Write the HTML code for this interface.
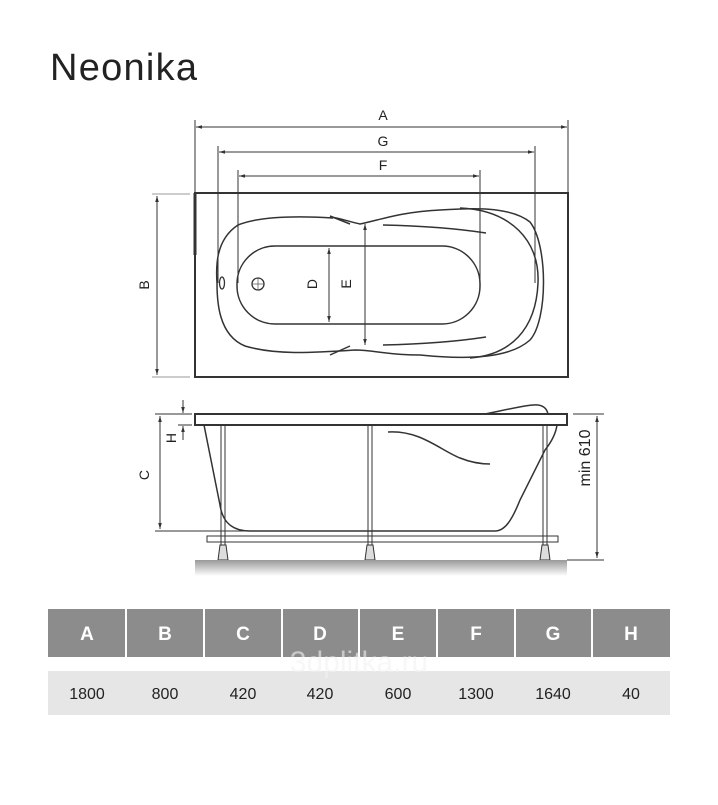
<!DOCTYPE html>
<html><head><meta charset="utf-8"><style>
body{margin:0;background:#fff;width:718px;height:800px;overflow:hidden;font-family:"Liberation Sans",sans-serif;}
</style></head><body>
<svg width="718" height="800" viewBox="0 0 718 800" xmlns="http://www.w3.org/2000/svg">
<defs>
<marker id="ar" viewBox="0 0 10 10" refX="10" refY="5" markerWidth="6" markerHeight="6" orient="auto-start-reverse"><path d="M0,2 L10,5 L0,8z" fill="#333"/></marker>
<linearGradient id="fl" x1="0" y1="0" x2="0" y2="1"><stop offset="0" stop-color="#999"/><stop offset="1" stop-color="#fff"/></linearGradient>
</defs>
<text x="50" y="80" font-size="38" fill="#222" font-family="Liberation Sans" textLength="147">Neonika</text>
<g stroke="#333" stroke-width="1" fill="none">
<line x1="195" y1="120" x2="195" y2="193"/><line x1="568" y1="120" x2="568" y2="193"/>
<line x1="196" y1="127" x2="567" y2="127" marker-start="url(#ar)" marker-end="url(#ar)"/>
<line x1="218" y1="146" x2="218" y2="283"/><line x1="535" y1="146" x2="535" y2="283"/>
<line x1="219" y1="152" x2="534" y2="152" marker-start="url(#ar)" marker-end="url(#ar)"/>
<line x1="238" y1="170" x2="238" y2="283"/><line x1="480" y1="170" x2="480" y2="283"/>
<line x1="239" y1="176" x2="479" y2="176" marker-start="url(#ar)" marker-end="url(#ar)"/>
<line x1="152" y1="194" x2="190" y2="194" stroke="#999"/><line x1="152" y1="377" x2="190" y2="377" stroke="#999"/>
<line x1="157" y1="196" x2="157" y2="375" marker-start="url(#ar)" marker-end="url(#ar)"/>
<rect x="195" y="193" width="373" height="184" stroke-width="2"/>
<line x1="195" y1="193" x2="195" y2="255" stroke-width="3"/>
<path d="M333,218 C300,216 260,216 238,225 C215,240 216,268 217,283 C217,300 218,335 245,346 C275,355 310,353 355,350 C375,350 385,355 420,355 C470,360 510,358 530,340 C548,320 548,245 530,222 C510,206 470,208 440,210 C400,212 380,220 360,224 C350,222 340,218 330,217" stroke-width="1.5"/>
<path d="M460,208 C510,210 540,240 538,283 C536,330 510,355 470,358" stroke-width="1.5"/>
<path d="M330,216 L350,224" stroke-width="1.5"/><path d="M330,355 L350,346" stroke-width="1.5"/>
<path d="M383,225 C430,226 460,229 486,233" stroke-width="1.5"/>
<path d="M383,345 C430,344 460,341 486,337" stroke-width="1.5"/>
<rect x="237" y="246" width="243" height="78" rx="38" stroke-width="1.5"/>
<ellipse cx="222" cy="283" rx="2.5" ry="6" stroke-width="1.3"/>
<circle cx="258" cy="284" r="6" stroke-width="1.3"/>
<line x1="252" y1="284" x2="264" y2="284" stroke-width="0.6"/><line x1="258" y1="278" x2="258" y2="290" stroke-width="0.6"/>
<line x1="329" y1="248" x2="329" y2="322" marker-start="url(#ar)" marker-end="url(#ar)"/>
<line x1="365" y1="224" x2="365" y2="345" marker-start="url(#ar)" marker-end="url(#ar)"/>
<rect x="195" y="414" width="372" height="11" stroke-width="2"/>
<path d="M485,414 C505,410 530,404 538,405 C545,406 547,410 548,414" stroke-width="1.5"/>
<path d="M204,425 L220,505 C223,525 235,531 250,531 L495,531 C505,531 512,520 520,500 L545,450 C553,440 556,432 557,425" stroke-width="1.5"/>
<path d="M388,432 C420,430 440,450 460,458 C470,462 480,464 490,464" stroke-width="1.5"/>
<rect x="207" y="536" width="351" height="6" stroke-width="1"/>
<g stroke-width="1"><rect x="221" y="425" width="4" height="120"/><rect x="368" y="425" width="4" height="120"/><rect x="543" y="425" width="4" height="120"/></g>
<g fill="#ddd" stroke="#333"><path d="M220,545 h6 l2,15 h-10z"/><path d="M367,545 h6 l2,15 h-10z"/><path d="M542,545 h6 l2,15 h-10z"/></g>
<line x1="155" y1="414" x2="192" y2="414"/><line x1="155" y1="531" x2="250" y2="531"/>
<line x1="160" y1="416" x2="160" y2="529" marker-start="url(#ar)" marker-end="url(#ar)"/>
<line x1="183" y1="400" x2="183" y2="413" marker-end="url(#ar)"/>
<line x1="183" y1="440" x2="183" y2="426" marker-end="url(#ar)"/>
<line x1="178" y1="425" x2="192" y2="425"/>
<line x1="573" y1="414" x2="604" y2="414"/><line x1="567" y1="560" x2="604" y2="560"/>
<line x1="597" y1="416" x2="597" y2="558" marker-start="url(#ar)" marker-end="url(#ar)"/>
</g>
<rect x="195" y="560" width="372" height="16" fill="url(#fl)"/>
<g font-size="14" fill="#222" text-anchor="middle">
<text x="383" y="120">A</text><text x="383" y="146">G</text><text x="383" y="170">F</text>
<text transform="translate(149,285) rotate(-90)">B</text>
<text transform="translate(317,284) rotate(-90)">D</text>
<text transform="translate(351,284) rotate(-90)">E</text>
<text transform="translate(149,475) rotate(-90)">C</text>
<text transform="translate(176,438) rotate(-90)">H</text>
<text transform="translate(590,458) rotate(-90)" font-size="16">min 610</text>
</g>
<rect x="48" y="609" width="622" height="48" fill="#8c8c8c"/>
<g stroke="#fff" stroke-width="2"><line x1="126" y1="609" x2="126" y2="657"/><line x1="204" y1="609" x2="204" y2="657"/><line x1="282" y1="609" x2="282" y2="657"/><line x1="359" y1="609" x2="359" y2="657"/><line x1="437" y1="609" x2="437" y2="657"/><line x1="515" y1="609" x2="515" y2="657"/><line x1="592" y1="609" x2="592" y2="657"/></g>
<rect x="48" y="671" width="622" height="44" fill="#e6e6e6"/>
<g font-size="19" font-weight="bold" fill="#fff" text-anchor="middle">
<text x="87" y="640">A</text><text x="165" y="640">B</text><text x="243" y="640">C</text><text x="320" y="640">D</text><text x="398" y="640">E</text><text x="476" y="640">F</text><text x="553" y="640">G</text><text x="631" y="640">H</text>
</g>
<text x="359" y="672" font-size="30" fill="#f2f2f2" fill-opacity="0.6" text-anchor="middle">3dplitka.ru</text>
<g font-size="16" fill="#222" text-anchor="middle">
<text x="87" y="699">1800</text><text x="165" y="699">800</text><text x="243" y="699">420</text><text x="320" y="699">420</text><text x="398" y="699">600</text><text x="476" y="699">1300</text><text x="553" y="699">1640</text><text x="631" y="699">40</text>
</g>
</svg>
</body></html>
